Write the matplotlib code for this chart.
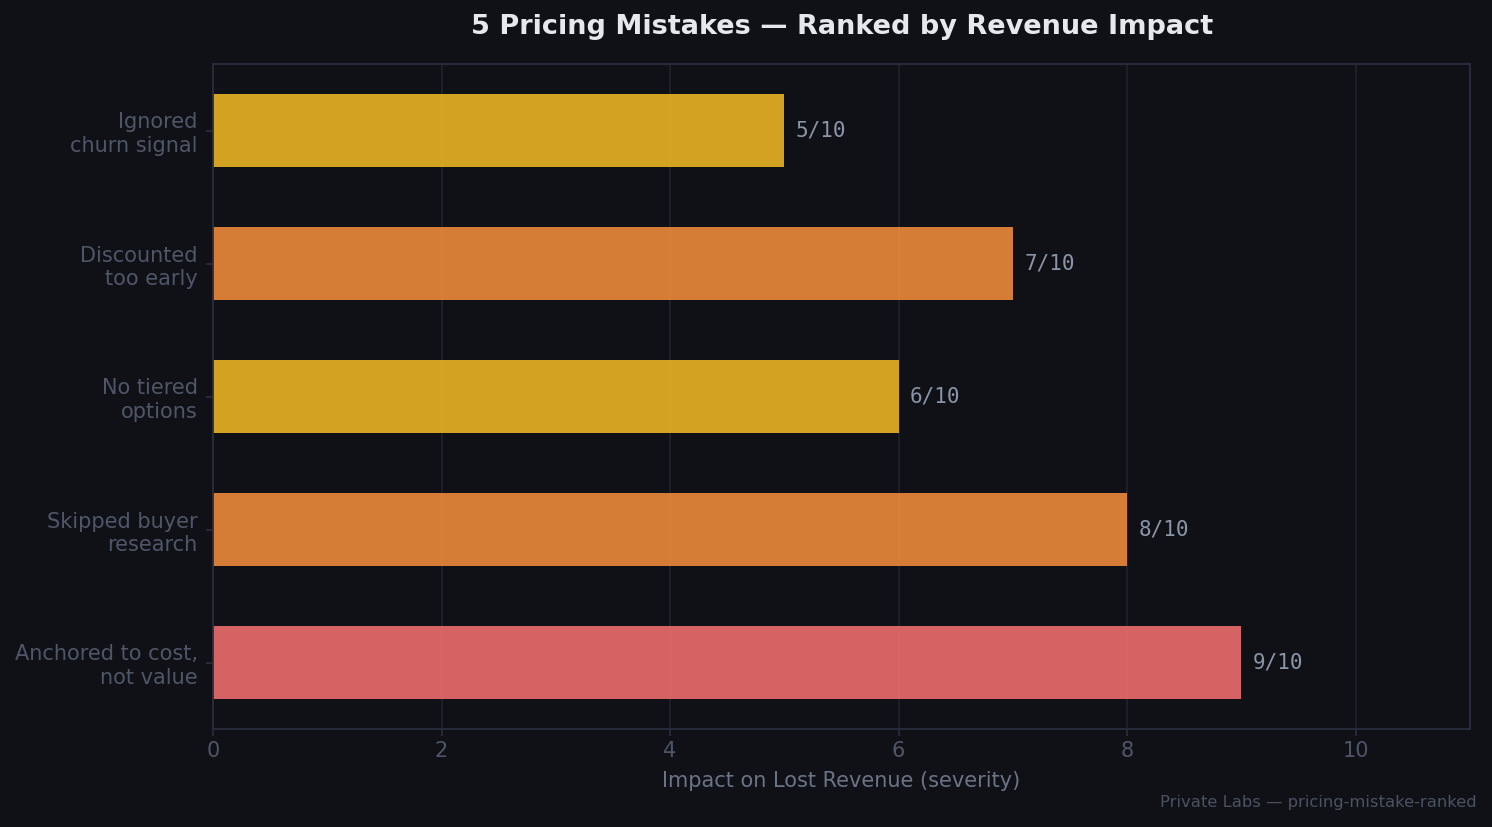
import matplotlib
matplotlib.use("Agg")
import matplotlib.pyplot as plt

# data, bottom to top
mistakes = ["Anchored to cost,\nnot value", "Skipped buyer\nresearch", "No tiered\noptions",
            "Discounted\ntoo early", "Ignored\nchurn signal"]
severity = [9, 8, 6, 7, 5]
bar_colors = ["#ec6d6d", "#ec8a3b", "#ebb323", "#ec8a3b", "#ebb323"]

BG = "#0f1116"

fig = plt.figure(figsize=(14.92, 8.27), dpi=100, facecolor=BG)
ax = fig.add_axes([213 / 1492, 1 - 729 / 827, (1470 - 213) / 1492, (729 - 64) / 827])
ax.set_facecolor(BG)

ypos = range(len(mistakes))
ax.barh(ypos, severity, height=0.55, color=bar_colors, alpha=0.9, zorder=2)

for y, v in zip(ypos, severity):
    ax.text(v + 0.1, y, f"{v}/10", va="center", ha="left", family="DejaVu Sans Mono",
            fontsize=15, color="#8b95a8", zorder=3)

ax.set_xlim(0, 11)
ax.set_ylim(-0.5, 4.5)
ax.set_yticks(list(ypos))
ax.set_yticklabels(mistakes, fontsize=15, color="#4f5668", linespacing=1.2)
ax.set_xticks([0, 2, 4, 6, 8, 10])
ax.tick_params(axis="x", colors="#4f5668", labelsize=15, length=5, width=1.2, color="#2a2d3d")
ax.tick_params(axis="y", colors="#4f5668", length=5, width=1.2, color="#2a2d3d", pad=6)
for lab in ax.get_yticklabels():
    lab.set_color("#4f5668")
ax.grid(axis="x", color="#1e202c", linewidth=1.3, zorder=0)
ax.set_axisbelow(True)
for s in ax.spines.values():
    s.set_color("#2a2d3d")
    s.set_linewidth(1.3)

ax.set_xlabel("Impact on Lost Revenue (severity)", fontsize=15, color="#6b7387", labelpad=7)
fig.text(842 / 1492, 1 - 27 / 827, "5 Pricing Mistakes — Ranked by Revenue Impact",
         ha="center", va="center", fontsize=19.5, fontweight="bold", color="#e6e8ee")
fig.text(1477 / 1492, 1 - 802 / 827, "Private Labs — pricing-mistake-ranked",
         ha="right", va="center", fontsize=11.8, color="#4b5263")

fig.savefig("out.png", dpi=100, facecolor=BG)
